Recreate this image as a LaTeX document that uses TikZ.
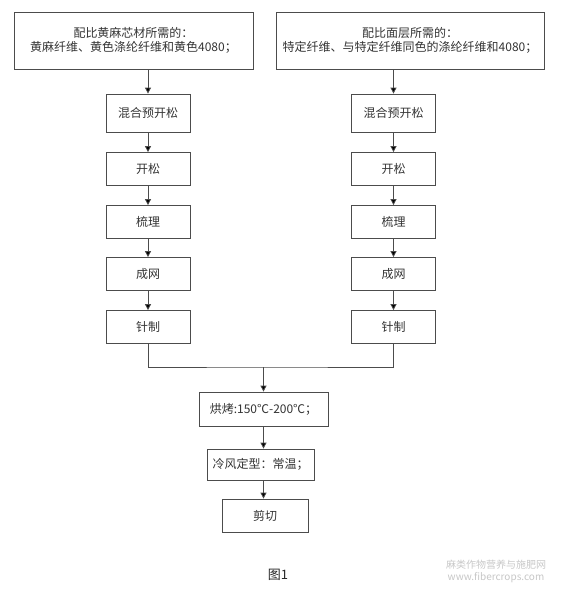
\documentclass[tikz,border=0pt]{standalone}
\usepackage{fontspec}
\setmainfont{Liberation Sans}
\newfontfamily\cjk{Noto Sans CJK SC}
\usetikzlibrary{arrows.meta, positioning}
\tikzset{
  stepbox/.style={draw=black!70, line width=0.8pt, minimum width=84pt, minimum height=33pt,
    inner sep=2pt, align=center, text=black!80, font=\cjk\fontsize{12}{14}\selectfont},
  flow/.style={draw=black!70, line width=0.8pt, -{Triangle[width=6pt,length=6pt,fill=black]}},
  joint/.style={draw=black!70, line width=0.8pt}
}

\begin{document}
\begin{tikzpicture}[x=1pt, y=-1pt]
  \useasboundingbox (0,0) rectangle (561,590);
  % raw material boxes
  \node[stepbox, minimum width=239pt, minimum height=57pt] (srcL) at (133.5,40.5)
    {配比黄麻芯材所需的：\\黄麻纤维、黄色涤纶纤维和黄色4080；};
  \node[stepbox, minimum width=268pt, minimum height=57pt] (srcR) at (410,40.5)
    {配比面层所需的：\\特定纤维、与特定纤维同色的涤纶纤维和4080；};
  % left line
  \node[stepbox, minimum height=38pt] (mixL) at (148,113) {混合预开松};
  \node[stepbox] (openL) at (148,169) {开松};
  \node[stepbox] (cardL) at (148,222) {梳理};
  \node[stepbox] (webL) at (148,274) {成网};
  \node[stepbox] (needL) at (148,327) {针制};
  % right line
  \node[stepbox, minimum height=38pt] (mixR) at (393.5,113) {混合预开松};
  \node[stepbox] (openR) at (393.5,169) {开松};
  \node[stepbox] (cardR) at (393.5,222) {梳理};
  \node[stepbox] (webR) at (393.5,274) {成网};
  \node[stepbox] (needR) at (393.5,327) {针制};
  % common line
  \node[stepbox, minimum width=129pt, minimum height=34pt] (bake) at (263.5,409) {烘烤:150℃-200℃；};
  \node[stepbox, minimum width=107pt, minimum height=31pt] (cool) at (260.5,464.5) {冷风定型：常温；};
  \node[stepbox, minimum width=86pt] (cut) at (265,515.5) {剪切};
  \coordinate (merge) at (263.5,367);
  %
  \draw[flow] (srcL.south -| mixL) -- (mixL);
  \draw[flow] (srcR.south -| mixR) -- (mixR);
  \foreach \a/\b in {mixL/openL, openL/cardL, cardL/webL, webL/needL,
                     mixR/openR, openR/cardR, cardR/webR, webR/needR}
    \draw[flow] (\a) -- (\b);
  \draw[joint] (needL) |- (merge) -| (needR);
  \draw[flow] (merge) -- (bake);
  \draw[flow] (bake.south) -- (bake.south |- cool.north);
  \draw[flow] (bake.south |- cool.south) -- (bake.south |- cut.north);
  % caption and mark
  \node[font=\cjk\fontsize{13}{15}\selectfont, text=black!85] (cap) at (278,575) {图1};
  \node[font=\cjk\fontsize{10}{12}\selectfont, text=black!22, align=center, inner sep=0pt] (mark) at (496,571)
    {麻类作物营养与施肥网\\www.fibercrops.com};
\end{tikzpicture}
\end{document}
